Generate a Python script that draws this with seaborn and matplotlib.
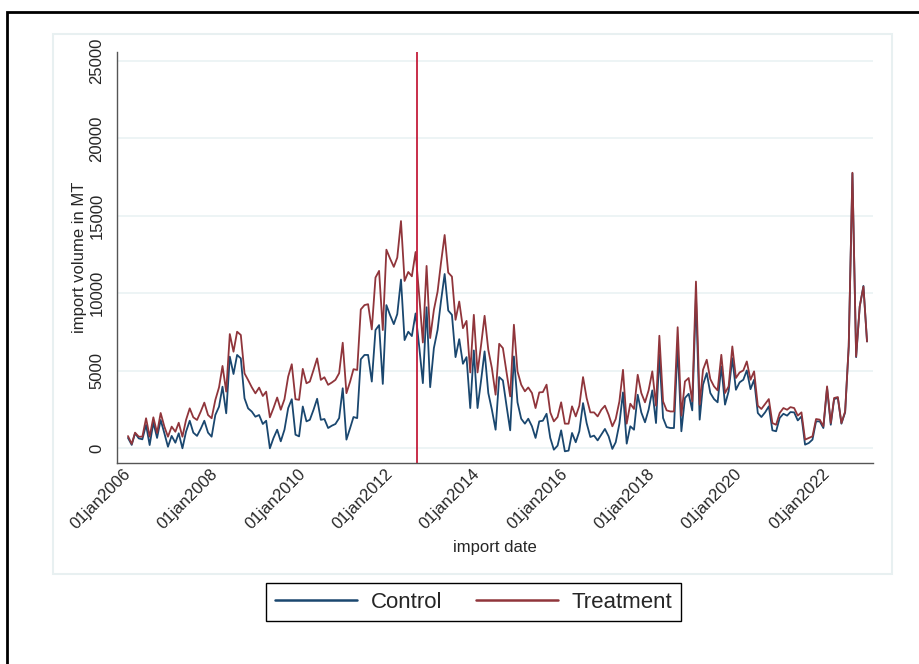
import pandas as pd
import matplotlib.pyplot as plt
from matplotlib.patches import Rectangle
import seaborn as sns

# monthly import volume (MT), Jan 2006 - Dec 2022
control = [
    650, 200, 950, 620, 560, 1490, 190, 1640, 650, 1810, 950, 80,          # 2006
    780, 340, 950, -20, 1050, 1760, 990, 780, 1240, 1760, 990, 730,        # 2007
    2130, 2670, 3960, 2240, 5900, 4780, 6010, 5790, 3210, 2560, 2350, 2020,  # 2008
    2130, 1550, 1760, -20, 640, 1180, 430, 1180, 2575, 3150, 860, 750,     # 2009
    2680, 1720, 1820, 2470, 3180, 1820, 1870, 1290, 1440, 1550, 1930, 3860,  # 2010
    540, 1290, 2000, 1930, 5730, 6010, 6010, 4290, 7620, 7940, 4140, 9230,  # 2011
    8580, 8000, 8650, 10880, 6970, 7510, 7230, 8690, 6500, 4190, 9090, 3930,  # 2012
    6450, 7630, 9460, 11240, 8880, 8600, 5870, 7030, 5440, 5870, 2580, 6300,  # 2013
    2580, 4450, 6240, 3550, 2470, 1180, 4580, 4360, 2690, 1140, 5910, 2950,  # 2014
    1890, 1570, 1890, 1400, 650, 1720, 1760, 2210, 650, -110, 150, 1140,   # 2015
    -215, -170, 970, 370, 1080, 2900, 1610, 710, 800, 490, 860, 1230,      # 2016
    750, -60, 370, 1570, 3590, 280, 1400, 1180, 3440, 2300, 1660, 2470,    # 2017
    3720, 1610, 6020, 1940, 1350, 1290, 1290, 6600, 1080, 3230, 3500, 2430,  # 2018
    9780, 1830, 4090, 4840, 3550, 3160, 2950, 5270, 2800, 3660, 5800, 3760,  # 2019
    4240, 4410, 5010, 3800, 4410, 2260, 2000, 2300, 2690, 1140, 1080, 1940,  # 2020
    2210, 2090, 2320, 2300, 1780, 2040, 215, 320, 540, 1720, 1720, 1290,   # 2021
    3870, 1500, 3160, 3230, 1570, 2300, 6560, 17740, 5870, 9140, 10470, 6880,  # 2022
]
treatment = [
    770, 260, 990, 730, 730, 1920, 730, 1980, 970, 2260, 1380, 730,
    1380, 1050, 1630, 730, 1810, 2560, 1980, 1810, 2350, 2930, 2130, 1920,
    3100, 3920, 5300, 3640, 7360, 6220, 7510, 7300, 4820, 4390, 3920, 3530,
    3900, 3360, 3640, 1980, 2575, 3260, 2470, 3150, 4610, 5410, 3150, 3110,
    5110, 4180, 4290, 5040, 5790, 4400, 4570, 4080, 4230, 4400, 4830, 6800,
    3540, 4290, 5090, 5040, 8950, 9230, 9290, 7660, 11010, 11440, 7620, 12810,
    12230, 11700, 12300, 14660, 10790, 11370, 11090, 12660, 9800, 6815, 11760, 7100,
    8920, 10100, 11930, 13760, 11330, 11070, 8280, 9460, 7740, 8210, 4880, 8600,
    4880, 6730, 8540, 6340, 5160, 3440, 6730, 6450, 4840, 3330, 7960, 4950,
    4090, 3660, 3910, 3550, 2580, 3590, 3610, 4090, 2300, 1720, 2000, 2950,
    1570, 1570, 2690, 2040, 2730, 4580, 3230, 2300, 2300, 2040, 2470, 2730,
    2150, 1400, 1870, 3010, 5050, 1570, 2860, 2520, 4730, 3550, 2950, 3720,
    4950, 2730, 7250, 3010, 2430, 2360, 2360, 7800, 2090, 4300, 4520, 3010,
    10750, 2800, 5050, 5700, 4450, 3980, 3720, 6020, 3550, 3980, 6560, 4520,
    4880, 5010, 5590, 4410, 4950, 2730, 2520, 2840, 3160, 1610, 1500, 2260,
    2580, 2470, 2640, 2580, 2090, 2300, 540, 645, 750, 1870, 1830, 1400,
    3980, 1610, 3230, 3290, 1610, 2360, 6560, 17780, 5910, 9140, 10430, 6880,
]
start_month = "2006-01-01"
policy_date = "2012-08-15"
tick_years = [2006, 2008, 2010, 2012, 2014, 2016, 2018, 2020, 2022]
tick_labels = [f"01jan{y}" for y in tick_years]
y_ticks = [0, 5000, 10000, 15000, 20000, 25000]

dates = pd.date_range(start_month, periods=len(control), freq="MS")
df = pd.concat([
    pd.DataFrame({"date": dates, "volume": control, "group": "Control"}),
    pd.DataFrame({"date": dates, "volume": treatment, "group": "Treatment"}),
])

sns.set_style("white")
plt.rcParams["font.family"] = ["Liberation Sans", "DejaVu Sans"]

fig = plt.figure(figsize=(9.2, 6.64), dpi=100)
ax = fig.add_axes([117 / 920, 1 - 463 / 664, (873 - 117) / 920, (463 - 52) / 664])

colors = {"Control": "#1a476f", "Treatment": "#90353b"}
sns.lineplot(data=df, x="date", y="volume", hue="group", palette=colors,
             linewidth=1.3, legend=False, ax=ax)
ax.axvline(pd.Timestamp(policy_date), color="#c41e3a", lw=1.3)

ax.set_ylim(-970, 25580)
ax.set_xlim(pd.Timestamp("2005-10-01"), pd.Timestamp("2023-01-20"))
ax.set_yticks(y_ticks)
ax.set_yticklabels([str(v) for v in y_ticks], rotation=90, va="center", fontsize=12)
ax.set_xticks([pd.Timestamp(f"{y}-01-01") for y in tick_years])
ax.set_xticklabels(tick_labels, rotation=45, ha="right", va="center",
                   rotation_mode="anchor", fontsize=12)
ax.grid(axis="y", color="#eaf2f3", lw=1.2)
ax.grid(axis="x", visible=False)

for side in ["top", "right"]:
    ax.spines[side].set_visible(False)
for side in ["left", "bottom"]:
    ax.spines[side].set_color("#555555")
    ax.spines[side].set_linewidth(1.0)
ax.tick_params(axis="both", direction="out", length=6, width=1, color="#555555", pad=3)
ax.tick_params(axis="x", pad=0)

ax.set_xlabel("import date", fontsize=12, labelpad=6)
ax.set_ylabel("import volume in MT", fontsize=12, labelpad=2)

handles = ax.get_lines()[:2]
leg = fig.legend(handles, ["Control", "Treatment"], loc="center", ncol=2,
                 bbox_to_anchor=(473.5 / 920, 1 - 602 / 664), fontsize=16,
                 frameon=True, fancybox=False, edgecolor="black", framealpha=1,
                 handlelength=3.7, handletextpad=0.6, columnspacing=1.5, borderpad=0.4)
for line in leg.get_lines():
    line.set_linewidth(1.8)

# light plot-region box and outer black frame
fig.patches.append(Rectangle((53 / 920, 1 - 574 / 664), (892 - 53) / 920, (574 - 34) / 664,
                             transform=fig.transFigure, fill=False, edgecolor="#e8f0f1", lw=1.5))
fig.patches.append(Rectangle((7 / 920, -0.1), 1.2, 1.1 - 12 / 664,
                             transform=fig.transFigure, fill=False, edgecolor="black", lw=2))

fig.savefig("out.png", dpi=100)
